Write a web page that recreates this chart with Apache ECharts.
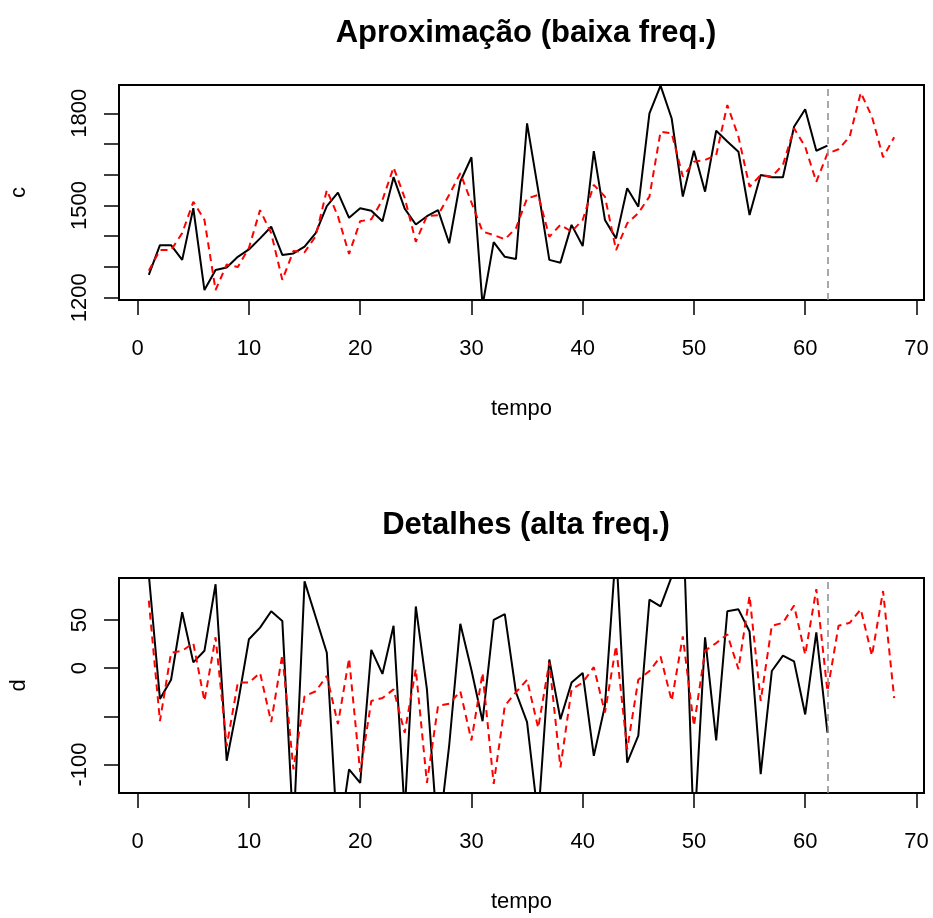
<!DOCTYPE html>
<html><head><meta charset="utf-8">
<script src="https://cdn.jsdelivr.net/npm/echarts@6/dist/echarts.min.js"></script>
<style>html,body{margin:0;padding:0;background:#fff}#c{width:933px;height:918px}</style>
</head><body><div id="c"></div>
<script>
// time index
const tempo = [1,2,3,4,5,6,7,8,9,10,11,12,13,14,15,16,17,18,19,20,21,22,23,24,25,26,27,28,29,30,
  31,32,33,34,35,36,37,38,39,40,41,42,43,44,45,46,47,48,49,50,51,52,53,54,55,56,57,58,59,60,
  61,62,63,64,65,66,67,68];

// top panel: observed approximation (black, t=1..62) and forecast approximation (red, t=1..68)
const cObs = [1274,1371,1371,1323,1491,1225,1290,1298,1333,1357,
  1393,1431,1339,1344,1366,1410,1498,1542,1460,1491,
  1483,1449,1592,1490,1438,1465,1485,1377,1578,1657,
  1175,1381,1333,1326,1767,1550,1323,1314,1437,1368,
  1677,1453,1393,1556,1496,1800,1890,1783,1529,1678,
  1545,1743,1708,1675,1469,1599,1592,1592,1756,1813,1678,1695];
const cPred = [1288,1355,1355,1410,1512,1453,1225,1308,1300,1362,
  1485,1410,1258,1352,1348,1400,1550,1465,1342,1449,
  1455,1518,1624,1525,1382,1466,1468,1535,1605,1510,
  1415,1404,1390,1426,1523,1534,1398,1437,1415,1453,
  1567,1529,1355,1442,1475,1529,1740,1735,1594,1642,
  1648,1664,1827,1724,1561,1599,1594,1632,1751,1691,
  1577,1669,1683,1724,1867,1789,1657,1722];

// bottom panel: detail (black, t=1..62) and forecast detail (red, t=1..68)
const dObs = [97,-32,-12,58,6,18,87,-96,-37,30,
  42,59,49,-170,90,53,16,-185,-105,-119,
  19,-6,44,-150,64,-22,-180,-80,46,-2,
  -55,50,56,-25,-56,-156,9,-53,-15,-5,
  -91,-39,125,-98,-70,71,64,95,160,-175,
  32,-75,59,61,38,-110,-3,13,7,-48,37,-67];
const dPred = [70,-55,16,18,26,-34,32,-81,-15,-15,
  -5,-56,14,-105,-29,-24,-8,-58,10,-108,
  -34,-31,-22,-67,-1,-119,-39,-37,-24,-75,
  -5,-120,-39,-25,-12,-62,6,-103,-22,-15,
  1,-46,23,-84,-12,-3,12,-34,33,-60,
  18,26,35,-1,75,-34,44,47,65,14,
  82,-24,44,47,61,13,80,-31];

const xTicks = [0,10,20,30,40,50,60,70];
const cTicks = [1200,1300,1400,1500,1600,1700,1800];
const cLabels = [1200,1500,1800];
const dTicks = [-100,-50,0,50];
const dLabels = [-100,0,50];
const cutPoint = 62;
const titles = ['Aproximação (baixa freq.)', 'Detalhes (alta freq.)'];

const FONT = 'Liberation Sans, Arial, sans-serif';
const pairs = (ys) => ys.map((v, i) => [tempo[i], v]);
const plain = (v) => String(v);

function xAxis(gi) {
  return {
    type: 'value', gridIndex: gi, min: -1.68, max: 70.68,
    axisLine: {show: true, onZero: false, lineStyle: {color: '#000', width: 2}},
    splitLine: {show: false},
    axisTick: {show: true, customValues: xTicks, length: 15, lineStyle: {color: '#000', width: 1.5}},
    axisLabel: {customValues: xTicks, formatter: plain, fontSize: 22, color: '#000', margin: 38, fontFamily: FONT},
    name: 'tempo', nameLocation: 'middle', nameGap: 98,
    nameTextStyle: {fontSize: 22, color: '#000', fontFamily: FONT}
  };
}
function yAxis(gi, min, max, ticks, labels, name) {
  return {
    type: 'value', gridIndex: gi, min: min, max: max,
    axisLine: {show: true, onZero: false, lineStyle: {color: '#000', width: 2}},
    splitLine: {show: false},
    axisTick: {show: true, customValues: ticks, length: 15, lineStyle: {color: '#000', width: 1.5}},
    axisLabel: {customValues: labels, formatter: plain, rotate: 90, fontSize: 22, color: '#000', margin: 28, fontFamily: FONT},
    name: name, nameLocation: 'middle', nameGap: 89, nameRotate: 90,
    nameTextStyle: {fontSize: 22, color: '#000', fontFamily: FONT}
  };
}
function blackLine(gi, ys) {
  return {type: 'line', xAxisIndex: gi, yAxisIndex: gi, data: pairs(ys), symbol: 'none', clip: true,
    lineStyle: {color: '#000', width: 2}, z: 2};
}
function redLine(gi, ys) {
  return {type: 'line', xAxisIndex: gi, yAxisIndex: gi, data: pairs(ys), symbol: 'none', clip: true,
    lineStyle: {color: '#ff0000', width: 2, type: [7, 5]}, z: 3,
    markLine: {silent: true, symbol: ['none', 'none'], label: {show: false},
      lineStyle: {color: '#8c8c8c', width: 1.5, type: [7, 5]},
      data: [{xAxis: cutPoint}]}};
}

const chart = echarts.init(document.getElementById('c'), null, {renderer: 'canvas'});
chart.setOption({
  animation: false,
  backgroundColor: '#fff',
  title: [
    {text: titles[0], left: 521, top: 13, textAlign: 'center',
      textStyle: {fontSize: 31, fontWeight: 'bold', color: '#000', fontFamily: FONT}},
    {text: titles[1], left: 521, top: 505, textAlign: 'center',
      textStyle: {fontSize: 31, fontWeight: 'bold', color: '#000', fontFamily: FONT}}
  ],
  grid: [
    {left: 119, top: 85, width: 805, height: 215, show: true, borderColor: '#000', borderWidth: 2, containLabel: false},
    {left: 119, top: 578, width: 805, height: 215, show: true, borderColor: '#000', borderWidth: 2, containLabel: false}
  ],
  xAxis: [xAxis(0), xAxis(1)],
  yAxis: [yAxis(0, 1192.5, 1892, cTicks, cLabels, 'c'), yAxis(1, -129.5, 93.5, dTicks, dLabels, 'd')],
  series: [blackLine(0, cObs), redLine(0, cPred), blackLine(1, dObs), redLine(1, dPred)]
});
</script></body></html>
